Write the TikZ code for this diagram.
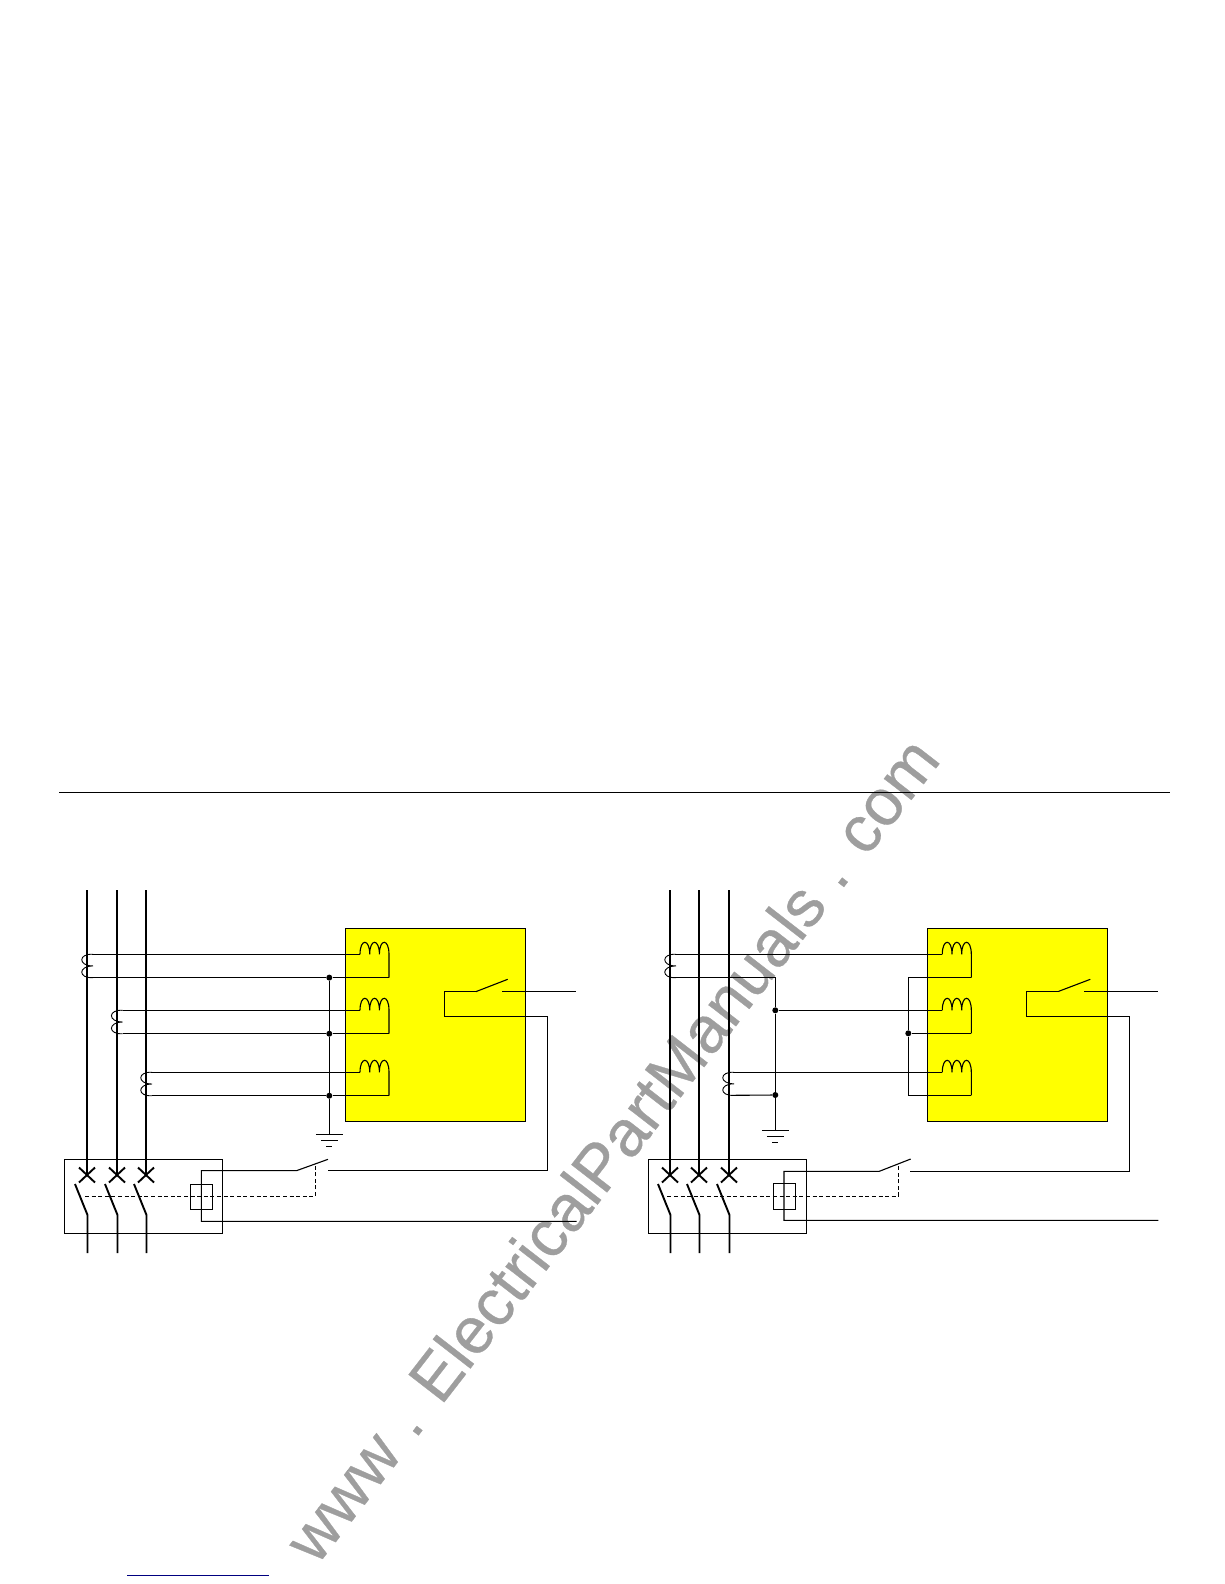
\documentclass[tikz,border=0pt]{standalone}
\usepackage{fontspec}
\setmainfont{Liberation Sans}
\newfontfamily\wmfont[FakeBold=0.5]{Liberation Sans}
\definecolor{relayyellow}{RGB}{255,255,0}
\definecolor{wmgray}{RGB}{158,158,158}
\definecolor{linkblue}{RGB}{0,0,128}
\tikzset{
  wire/.style={line width=1.1pt,black,line join=miter},
  phase/.style={line width=2.4pt,black},
  blade/.style={line width=1.9pt,black},
  relaybox/.style={draw=black,line width=1.1pt,fill=relayyellow,inner sep=0pt},
  framebox/.style={draw=black,line width=1.1pt,inner sep=0pt},
  linkage/.style={line width=0.9pt,black,dash pattern=on 4pt off 2.6pt},
  junction/.style={circle,fill=black,inner sep=0pt,minimum size=6pt},
  watermark/.style={text=wmgray,font=\wmfont\fontsize{65.5}{66}\selectfont,rotate=52.2,inner sep=0pt}
}
% CT secondary: #1 x of right end, #2 top y, #3 bottom y
\newcommand{\ctcoil}[3]{
  \draw[wire,line width=0.9pt] (#1,#2) .. controls (#1-15,#2-1) and (#1-15,{(#2+#3)/2}) .. (#1,{(#2+#3)/2})
     (#1,{(#2+#3)/2}) .. controls (#1-15,{(#2+#3)/2}) and (#1-15,#3+1) .. (#1,#3);
}
% Relay coil: #1 left x, #2 base y, #3 bottom y
\newcommand{\relaycoil}[3]{
  \draw[wire] (#1,#2) .. controls (#1,#2-16) and (#1+9.7,#2-16) .. (#1+9.7,#2)
     .. controls (#1+9.7,#2-16) and (#1+19.4,#2-16) .. (#1+19.4,#2)
     .. controls (#1+19.4,#2-16) and (#1+29,#2-16) .. (#1+29,#2) -- (#1+29,#3);
}
% Pole of the breaker: #1 x, #2 name
\newcommand{\breakerpole}[2]{
  \coordinate (#2top) at (#1,890);
  \coordinate (#2x) at (#1,1175);
  \coordinate (#2hinge) at (#1+.5,1215);
  \coordinate (#2tip) at (#1-12,1184);
  \coordinate (#2bot) at (#1+.5,1253);
  \draw[phase] (#2top) -- (#2x);
  \draw[blade] (#1-8,1167.5) -- (#1+8,1182.5) (#1-8,1182.5) -- (#1+8,1167.5);
  \draw[blade] (#2tip) -- (#2hinge) -- (#2bot);
}
% Ground: #1 x, #2 y of the first bar
\newcommand{\groundsym}[2]{
  \draw[wire] (#1-13.5,#2) -- (#1+13.5,#2) (#1-8.5,#2+5.8) -- (#1+8.5,#2+5.8) (#1-3,#2+12.5) -- (#1+3,#2+12.5);
}
\begin{document}
\begin{tikzpicture}[x=1pt,y=-1pt]
\useasboundingbox (0,0) rectangle (1224,1584);
\node[watermark] (wm) at (611,1149) {www . ElectricalPartManuals . com};

\coordinate (ruleL) at (59,792.3);
\coordinate (ruleR) at (1170,792.3);
\draw[wire] (ruleL) -- (ruleR);
\coordinate (linkL) at (127,1575.3);
\coordinate (linkR) at (269,1575.3);
\draw[line width=1.3pt,linkblue] (linkL) -- (linkR);

% ---------- left diagram ----------
\node[relaybox,minimum width=180pt,minimum height=192.7pt,anchor=north west] (relayA) at (345.3,928.3) {};
\node[framebox,minimum width=157.6pt,minimum height=74pt,anchor=north west] (cbA) at (64.3,1159.3) {};
\node[framebox,minimum width=21.4pt,minimum height=25pt,anchor=north west] (tripA) at (190.3,1184.3) {};
\breakerpole{87}{pa}
\breakerpole{117}{pb}
\breakerpole{146}{pc}
\ctcoil{93}{954.3}{977.6}
\ctcoil{122.7}{1010.3}{1033.7}
\ctcoil{152}{1072.3}{1095.7}
\relaycoil{360}{954.3}{977.6}
\relaycoil{360}{1010.3}{1033.7}
\relaycoil{360}{1072.3}{1095.7}
\node[junction] (ja1) at (329.3,977.6) {};
\node[junction] (ja2) at (329.3,1033.7) {};
\node[junction] (ja3) at (329.3,1095.7) {};
\coordinate (ga) at (329.3,1134.3);
\draw[wire] (93,954.3) -- (360,954.3);
\draw[wire] (93,977.6) -- (ja1) -- (389,977.6);
\draw[wire] (122.7,1010.3) -- (360,1010.3);
\draw[wire] (122.7,1033.7) -- (ja2) -- (389,1033.7);
\draw[wire] (152,1072.3) -- (360,1072.3);
\draw[wire] (152,1095.7) -- (ja3) -- (389,1095.7);
\draw[wire] (ja1) -- (ja2) -- (ja3) -- (ga);
\groundsym{329.3}{1134.3}
% relay contact and trip circuit
\draw[wire] (476,991.6) -- (444.3,991.6) -- (444.3,1016.6) -- (547.4,1016.6) -- (547.4,1170.6) -- (327.7,1170.6);
\draw[wire] (476,991.6) -- (507.7,979.3);
\draw[wire] (502,991.6) -- (576,991.6);
\draw[wire] (328,1159.3) -- (296.7,1170.6) -- (201.3,1170.6) -- (201.3,1221.3) -- (576.7,1221.3);
\draw[linkage] (85,1196.3) -- (315.7,1196.3) -- (315.7,1165.5);

% ---------- right diagram ----------
\node[relaybox,minimum width=180pt,minimum height=192.7pt,anchor=north west] (relayB) at (927.3,928.3) {};
\node[framebox,minimum width=157.4pt,minimum height=74pt,anchor=north west] (cbB) at (648.3,1159.3) {};
\node[framebox,minimum width=21.4pt,minimum height=25.4pt,anchor=north west] (tripB) at (773.3,1183.3) {};
\breakerpole{670}{qa}
\breakerpole{699}{qb}
\breakerpole{729}{qc}
\ctcoil{676}{954.3}{977.6}
\ctcoil{734}{1072.3}{1095.3}
\relaycoil{942.3}{954.3}{977.6}
\relaycoil{942.3}{1010.3}{1033.3}
\relaycoil{942.3}{1072.3}{1095.3}
\node[junction] (jb1) at (775.3,1010.3) {};
\node[junction] (jb2) at (775.3,1095) {};
\node[junction] (jb3) at (908.3,1033.3) {};
\coordinate (gb) at (775.3,1130.3);
\draw[wire] (676,954.3) -- (942.3,954.3);
\draw[wire] (676,977.6) -- (775.3,977.6) -- (jb1) -- (jb2) -- (gb);
\draw[wire] (jb1) -- (942.3,1010.3);
\draw[wire] (734,1072.3) -- (942.3,1072.3);
\draw[wire] (734,1095.3) -- (jb2);
\draw[wire] (971.3,977.6) -- (908.3,977.6) -- (jb3) -- (908.3,1095.3) -- (971.3,1095.3);
\draw[wire] (jb3) -- (971.3,1033.3);
\groundsym{775.3}{1130.3}
% relay contact and trip circuit
\draw[wire] (1058.7,991.3) -- (1026.7,991.3) -- (1026.7,1016.3) -- (1129.7,1016.3) -- (1129.7,1171.3) -- (910,1171.3);
\draw[wire] (1058.7,991.3) -- (1090.3,979.3);
\draw[wire] (1084.3,991.3) -- (1158.3,991.3);
\draw[wire] (910.7,1159) -- (879.3,1171.3) -- (784,1171.3) -- (784,1220.3) -- (1158.3,1220.3);
\draw[linkage] (667.3,1196.3) -- (898.3,1196.3) -- (898.3,1165);
\end{tikzpicture}
\end{document}
